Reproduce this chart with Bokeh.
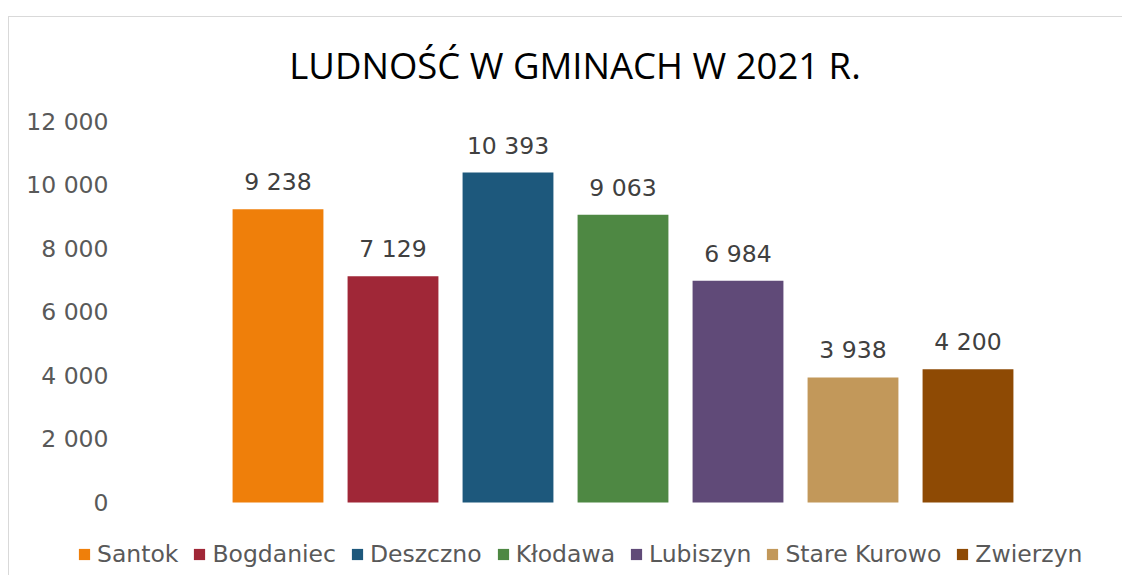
from bokeh.plotting import figure
from bokeh.models import (ColumnDataSource, Range1d, FixedTicker,
                          CustomJSTickFormatter, LabelSet, Label)
from bokeh.core.properties import value
from bokeh.embed import file_html
from bokeh.resources import INLINE

# ---- data ----
gminy = ["Santok", "Bogdaniec", "Deszczno", "Kłodawa", "Lubiszyn", "Stare Kurowo", "Zwierzyn"]
ludnosc = [9238, 7129, 10393, 9063, 6984, 3938, 4200]
kolory = ["#EF7F0A", "#A02737", "#1D587C", "#4E8843", "#604A78", "#C2985A", "#8E4A04"]
y_ticks = [0, 2000, 4000, 6000, 8000, 10000, 12000]
title_text = "LUDNOŚĆ W GMINACH W 2021 R."


def fmt(v):
    return f"{v:,}".replace(",", " ")


src = ColumnDataSource(dict(
    pos=list(range(len(gminy))), name=gminy, value=ludnosc, color=kolory,
    label=[fmt(v) for v in ludnosc],
))

# ---- layout (canvas pixels) ----
W, H = 1114, 559
FRAME_LEFT = 59
Y0_PX, Y12K_PX = 485, 104          # canvas y of 0 and of 12 000
CAT0_PX, PITCH = 211, 115          # left edge of first category slot, slot width
k = (Y0_PX - Y12K_PX) / 12000.0
y_start = -(H - Y0_PX) / k
y_end = Y0_PX / k
x_start = -0.5 - (CAT0_PX - FRAME_LEFT) / PITCH
x_end = x_start + (W - FRAME_LEFT) / PITCH

p = figure(width=W, height=H, x_range=Range1d(x_start, x_end),
           y_range=Range1d(y_start, y_end), output_backend="svg",
           toolbar_location=None, min_border=0, min_border_left=FRAME_LEFT)
p.styles = {"margin-left": "8px", "margin-top": "16px",
            "border-top": "1px solid #d9d9d9", "border-left": "1px solid #d9d9d9"}

p.outline_line_color = None
p.background_fill_color = "white"
p.border_fill_color = "white"
p.xgrid.visible = False
p.ygrid.visible = False
p.xaxis.visible = False

ax = p.yaxis[0]
ax.ticker = FixedTicker(ticks=y_ticks)
ax.formatter = CustomJSTickFormatter(
    code="return tick.toString().replace(/\\B(?=(\\d{3})+(?!\\d))/g, ' ');")
ax.axis_line_color = None
ax.major_tick_line_color = None
ax.minor_tick_line_color = None
ax.major_tick_out = 0
ax.major_tick_in = 0
ax.major_label_standoff = FRAME_LEFT - 99
ax.major_label_text_font = "DejaVu Sans"
ax.major_label_text_font_size = "23.5px"
ax.major_label_text_color = "#595959"

r = p.vbar(x="pos", top="value", width=0.79, source=src, fill_color="color",
           line_color=None, legend_field="name")

labels = LabelSet(x="pos", y="value", text="label", source=src, y_offset=19,
                  text_align="center", text_baseline="alphabetic",
                  text_font=value("DejaVu Sans"), text_font_size=value("23.5px"),
                  text_color="#404040")
p.add_layout(labels)

title = Label(x=565.5 - FRAME_LEFT, y=H - 61 + 14, x_units="screen", y_units="screen",
              text=title_text, text_align="center", text_baseline="alphabetic",
              text_font="Open Sans", text_font_size="36.5px", text_color="#000000")
p.add_layout(title)

leg = p.legend[0]
leg.orientation = "horizontal"
leg.location = (68 - FRAME_LEFT, 8)
leg.border_line_color = None
leg.background_fill_alpha = 0
leg.padding = 0
leg.margin = 0
leg.spacing = 14
leg.glyph_width = 14
leg.glyph_height = 14
leg.label_standoff = 6
leg.label_text_font = "DejaVu Sans"
leg.label_text_font_size = "23.5px"
leg.label_text_color = "#595959"

open("out.html", "w").write(file_html(p, INLINE))
